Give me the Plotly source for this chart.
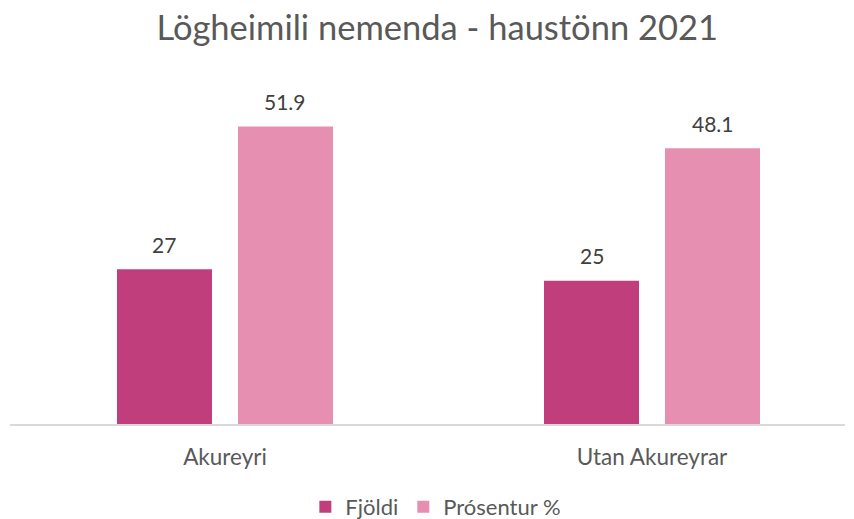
import plotly.graph_objects as go

categories = ["Akureyri", "Utan Akureyrar"]
fjoldi = [27, 25]
prosentur = [51.9, 48.1]
fjoldi_labels = ["27", "25"]
prosentur_labels = ["51.9", "48.1"]

C1 = "#C13E7C"
C2 = "#E68FB0"
TXT = "#595959"
FONT = "Lato, 'Open Sans', sans-serif"

px_per_unit = 427.0
bw = 95 / px_per_unit
off1 = -108 / px_per_unit
off2 = 13 / px_per_unit

fig = go.Figure()
fig.add_bar(name="Fjöldi", x=categories, y=fjoldi, marker_color=C1,
            width=bw, offset=off1, marker_line_width=0)
fig.add_bar(name="Prósentur %", x=categories, y=prosentur, marker_color=C2,
            width=bw, offset=off2, marker_line_width=0)

for i, c in enumerate(categories):
    fig.add_annotation(x=c, y=fjoldi[i], text=fjoldi_labels[i], showarrow=False,
                       xshift=-60.5, yshift=25, font=dict(size=21, color="#404040", family=FONT))
    fig.add_annotation(x=c, y=prosentur[i], text=prosentur_labels[i], showarrow=False,
                       xshift=60.5, yshift=25, font=dict(size=21, color="#404040", family=FONT))

fig.update_layout(
    width=854, height=519,
    paper_bgcolor="white", plot_bgcolor="white",
    margin=dict(l=10, r=9, t=80, b=95, autoexpand=False),
    barmode="overlay",
    title=dict(text="Lögheimili nemenda - haustönn 2021", x=0.512, xanchor="center",
               y=0.946, yanchor="middle",
               font=dict(size=34.5, color=TXT, family=FONT)),
    showlegend=True,
    legend=dict(orientation="h", x=0.51, xanchor="center",
                yref="container", y=0.023, yanchor="middle",
                font=dict(size=22, color=TXT, family=FONT), itemwidth=30,
                traceorder="normal"),
    xaxis=dict(range=[-0.5035, 1.452], showgrid=False, showline=True,
               linecolor="#D9D9D9", linewidth=1.5, ticks="", ticklabelstandoff=12,
               tickfont=dict(size=22.5, color=TXT, family=FONT)),
    yaxis=dict(range=[0, 60], visible=False, showgrid=False),
)

fig.write_html("out.html", config={"displayModeBar": False},
               post_script="document.body.style.margin='0';")
